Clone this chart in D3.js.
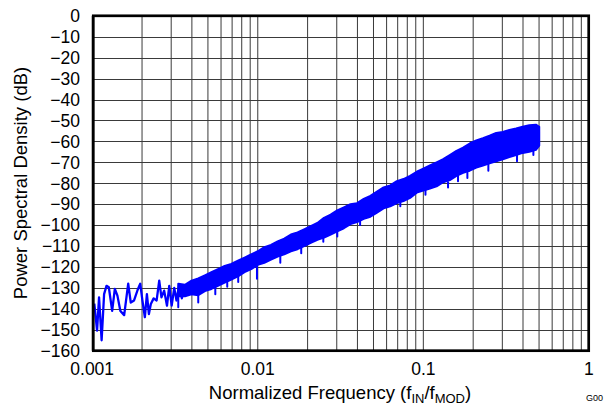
<!DOCTYPE html>
<html>
<head>
<meta charset="utf-8">
<script src="https://cdn.jsdelivr.net/npm/d3@7"></script>
<style>
  body { margin: 0; background: #fff; }
  svg { display: block; font-family: "Liberation Sans", Arial, sans-serif; }
</style>
</head>
<body>
<div id="chart"></div>
<script>
// noise floor at the low end, drawn as a plain line
const lowFreq = [0.00103, 0.00107, 0.00110, 0.00114, 0.00118, 0.00122, 0.00126, 0.00132, 0.00137, 0.00142,
                 0.00148, 0.00156, 0.00165, 0.00171, 0.00179, 0.00188, 0.00195, 0.00201, 0.00208, 0.00214,
                 0.00220, 0.00226, 0.00235, 0.00245, 0.00254, 0.00262, 0.00272, 0.00283, 0.00292, 0.00302,
                 0.00313, 0.00323, 0.00335, 0.00348, 0.00360];
const lowDb = [-137.5, -150.4, -134.5, -155, -133, -129, -129.7, -141, -130.5, -133.7,
               -141, -143, -128, -137, -136, -131, -128, -136, -144, -133,
               -142.5, -137.7, -135, -136, -126.5, -134.5, -131.3, -138.5, -129, -138.5,
               -130, -136, -128.5, -135, -129.5];

// dense part of the trace, read as its upper and lower edge
const bandFreq = [0.00331, 0.00363, 0.00398, 0.00437, 0.00479, 0.00525, 0.00575, 0.00631, 0.00692,
                  0.00759, 0.00832, 0.00912, 0.0100, 0.01096, 0.01202, 0.01318, 0.01445, 0.01585, 0.01738,
                  0.01905, 0.02089, 0.02291, 0.02512, 0.02754, 0.03020, 0.03311, 0.03631, 0.03981, 0.04365,
                  0.04786, 0.05248, 0.05754, 0.06310, 0.06918, 0.07586, 0.08318, 0.09120, 0.1000, 0.1096,
                  0.1202, 0.1318, 0.1445, 0.1585, 0.1738, 0.1905, 0.2089, 0.2291, 0.2512, 0.2754,
                  0.3020, 0.3311, 0.3631, 0.3981, 0.4365, 0.4786, 0.5012];
const bandHi = [-128, -128.5, -126.5, -125.5, -124, -122.5, -121, -119.5, -118.5,
                -117, -115.5, -114, -112.5, -110.5, -109.5, -107.8, -106.5, -104.5, -103.5,
                -102, -100.5, -99, -96.5, -95, -93, -91.5, -90, -89.5, -87.5,
                -86, -84, -82, -81, -79, -78, -76.5, -74.5, -73, -71.5,
                -70, -68.5, -66.5, -64.5, -63, -61, -59.5, -58.5, -57.3, -56,
                -55.5, -54.5, -53.8, -53, -52.3, -52, -53];
const bandLo = [-134, -134, -133, -133.5, -131.5, -130.5, -129, -127.5, -126,
                -124.5, -122.5, -121, -119, -118, -116.5, -115, -114, -112.5, -111.5,
                -110, -108.5, -107, -106, -104.5, -103, -101.5, -99.5, -98.5, -97,
                -96, -94, -92, -91, -89.5, -88.5, -87, -84.5, -83.5, -82.5,
                -81.5, -79.5, -78.5, -76.5, -75, -74, -72.5, -71.5, -70.5, -69.5,
                -68.5, -67.5, -66.5, -65.5, -65, -64, -62];

// narrow dips that stick out below the band
const dipFreq = [0.00331, 0.00437, 0.00554, 0.00654, 0.00762, 0.00989, 0.01368, 0.01830, 0.02488, 0.03022,
                 0.04150, 0.0726, 0.1030, 0.1410, 0.1620, 0.1845, 0.2470, 0.368, 0.462];
const dipTop = [-134, -132, -129.5, -126.5, -124, -119, -115, -111, -105.5, -103,
                -97.5, -89, -83, -79.5, -76.5, -75, -70.5, -66.5, -64.5];
const dipBottom = [-139.3, -137, -133, -129.5, -127.2, -125.6, -118, -113.5, -108, -105.5,
                   -100, -91, -85.5, -82, -79, -77.5, -74, -69.5, -66.5];

const yTickValues = [0, -10, -20, -30, -40, -50, -60, -70, -80, -90, -100, -110, -120, -130, -140, -150, -160];
const yTickLabels = ["0", "\u221210", "\u221220", "\u221230", "\u221240", "\u221250", "\u221260", "\u221270",
                     "\u221280", "\u221290", "\u2212100", "\u2212110", "\u2212120", "\u2212130", "\u2212140",
                     "\u2212150", "\u2212160"];
const xTickValues = [0.001, 0.01, 0.1, 1];
const xTickLabels = ["0.001", "0.01", "0.1", "1"];

let width = 605, height = 406;
let plotLeft = 92.2, plotRight = 588.9, plotTop = 15.8, plotBottom = 350.7;

let x = d3.scaleLog().domain([0.001, 1]).range([plotLeft, plotRight]);
let y = d3.scaleLinear().domain([0, -160]).range([plotTop, plotBottom]);

let svg = d3.select("#chart").append("svg")
    .attr("width", width).attr("height", height);

svg.append("rect").attr("width", width).attr("height", height).attr("fill", "white");

// grid: decades and their 2..9 subdivisions
svg.append("g").selectAll("line")
    .data(x.ticks())
    .join("line")
    .attr("x1", d => x(d)).attr("x2", d => x(d))
    .attr("y1", plotTop).attr("y2", plotBottom)
    .attr("stroke", "#3a3a3a")
    .attr("stroke-width", 1);

svg.append("g").selectAll("line")
    .data(yTickValues)
    .join("line")
    .attr("x1", plotLeft).attr("x2", plotRight)
    .attr("y1", d => Math.round(y(d)) + 0.5).attr("y2", d => Math.round(y(d)) + 0.5)
    .attr("stroke", "#3a3a3a")
    .attr("stroke-width", 1);

let line = d3.line().x(d => x(d[0])).y(d => y(d[1]));

// band outline: upper edge left to right, lower edge back
let bandPts = bandFreq.map((f, i) => [f, bandHi[i]])
    .concat(bandFreq.map((f, i) => [f, bandLo[i]]).reverse());

svg.append("path")
    .attr("d", line(bandPts) + "Z")
    .attr("fill", "#0000ff")
    .attr("stroke", "#0000ff")
    .attr("stroke-width", 2)
    .attr("stroke-linejoin", "round");

svg.append("path")
    .attr("d", line(lowFreq.map((f, i) => [f, lowDb[i]])))
    .attr("fill", "none")
    .attr("stroke", "#0000ff")
    .attr("stroke-width", 2.3)
    .attr("stroke-linejoin", "round");

svg.append("g").selectAll("line")
    .data(dipFreq)
    .join("line")
    .attr("x1", d => x(d)).attr("x2", d => x(d))
    .attr("y1", (d, i) => y(dipTop[i])).attr("y2", (d, i) => y(dipBottom[i]))
    .attr("stroke", "#0000ff")
    .attr("stroke-width", 2)
    .attr("stroke-linecap", "round");

// frame
svg.append("rect")
    .attr("x", 93.3).attr("y", plotTop)
    .attr("width", 588.7 - 93.3).attr("height", plotBottom - plotTop)
    .attr("fill", "none")
    .attr("stroke", "black")
    .attr("stroke-width", 2.7);

// tick labels
svg.append("g").selectAll("text")
    .data(yTickValues)
    .join("text")
    .attr("x", 80)
    .attr("y", d => y(d) + 6.3)
    .attr("text-anchor", "end")
    .attr("font-size", 17.5)
    .text((d, i) => yTickLabels[i]);

svg.append("g").selectAll("text")
    .data(xTickValues)
    .join("text")
    .attr("x", d => x(d))
    .attr("y", 375)
    .attr("text-anchor", "middle")
    .attr("font-size", 17.5)
    .text((d, i) => xTickLabels[i]);

// axis titles
svg.append("text")
    .attr("transform", "translate(26.5,183) rotate(-90)")
    .attr("text-anchor", "middle")
    .attr("font-size", 18.5)
    .text("Power Spectral Density (dB)");

let xTitle = svg.append("text")
    .attr("x", 340).attr("y", 399)
    .attr("text-anchor", "middle")
    .attr("font-size", 18.5);
xTitle.append("tspan").text("Normalized Frequency (f");
xTitle.append("tspan").attr("font-size", 13).attr("dy", 4).text("IN");
xTitle.append("tspan").attr("dy", -4).text("/f");
xTitle.append("tspan").attr("font-size", 13).attr("dy", 4).text("MOD");
xTitle.append("tspan").attr("dy", -4).text(")");

svg.append("text")
    .attr("x", 586).attr("y", 401)
    .attr("font-size", 9)
    .text("G00");
</script>
</body>
</html>
